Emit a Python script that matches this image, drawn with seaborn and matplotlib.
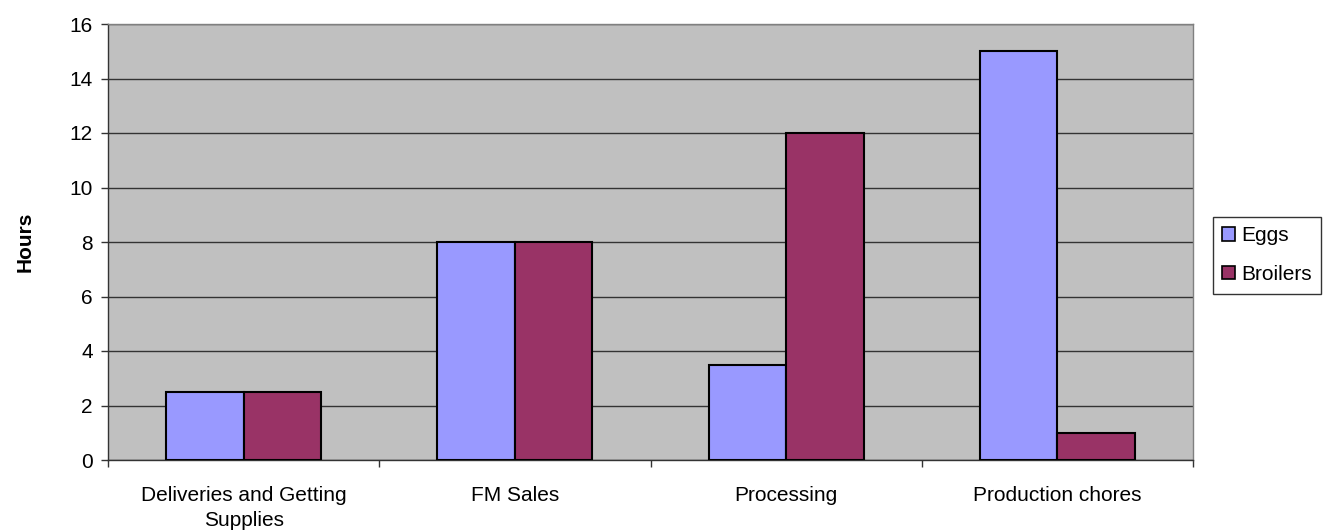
import matplotlib
matplotlib.use("Agg")
import matplotlib.pyplot as plt
import seaborn as sns
import pandas as pd
import numpy as np
from matplotlib.ticker import FixedLocator

categories = ["Deliveries and Getting\nSupplies", "FM Sales", "Processing", "Production chores"]
eggs = [2.5, 8, 3.5, 15]
broilers = [2.5, 8, 12, 1]
series_names = ["Eggs", "Broilers"]

df = pd.DataFrame({
    "category": categories * 2,
    "hours": eggs + broilers,
    "series": [series_names[0]] * 4 + [series_names[1]] * 4,
})

sns.set_style("white")
plt.rcParams['font.family'] = ['Liberation Sans', 'DejaVu Sans']
plt.rcParams['text.color'] = 'black'
plt.rcParams['axes.labelcolor'] = 'black'
plt.rcParams['xtick.color'] = 'black'
plt.rcParams['ytick.color'] = 'black'

FS = 15

fig = plt.figure(figsize=(13.27, 5.31), dpi=100)
ax = fig.add_axes([108/1327, 71/531, (1193-108)/1327, (460-24)/531])
ax.set_facecolor("#C0C0C0")

sns.barplot(data=df, x="category", y="hours", hue="series",
            palette=["#9999FF", "#993366"], saturation=1, width=0.571,
            edgecolor="black", linewidth=1.5, ax=ax, zorder=3)

ax.set_ylim(0, 16)
ax.set_xlim(-0.5, 3.5)
ax.set_yticks(np.arange(0, 17, 2))
ax.yaxis.grid(True, color="#333333", linewidth=1, zorder=0)
ax.set_axisbelow(True)
ax.tick_params(axis="y", labelsize=FS, length=5, direction="out", left=True, width=1, color="#333333", pad=6)
ax.tick_params(axis="x", which="major", labelsize=FS, length=0, pad=19)
ax.xaxis.set_minor_locator(FixedLocator([-0.5, 0.5, 1.5, 2.5, 3.5]))
ax.tick_params(axis="x", which="minor", length=5, bottom=True, direction="out", width=1, color="#333333")
for t in ax.get_xticklabels():
    t.set_linespacing(1.35)
ax.set_xlabel("")
ax.set_ylabel("Hours", fontsize=FS, fontweight="bold", labelpad=25)

for s in ["top", "right"]:
    ax.spines[s].set_color("#808080")
    ax.spines[s].set_linewidth(1)
for s in ["left", "bottom"]:
    ax.spines[s].set_color("#333333")
    ax.spines[s].set_linewidth(1)

ax.legend_.remove()
handles, labels = ax.get_legend_handles_labels()
leg = fig.legend(handles, labels, loc="upper left", bbox_to_anchor=(1213/1327, 1 - 217/531),
                 fontsize=FS, frameon=True, fancybox=False, edgecolor="black",
                 handlelength=0.6, handleheight=0.6, handletextpad=0.3,
                 borderpad=0.45, labelspacing=0.95, borderaxespad=0)
leg.get_frame().set_linewidth(1)
for h in leg.legend_handles:
    h.set_edgecolor("black")
    h.set_linewidth(1.2)

fig.savefig("out.png", dpi=100)
